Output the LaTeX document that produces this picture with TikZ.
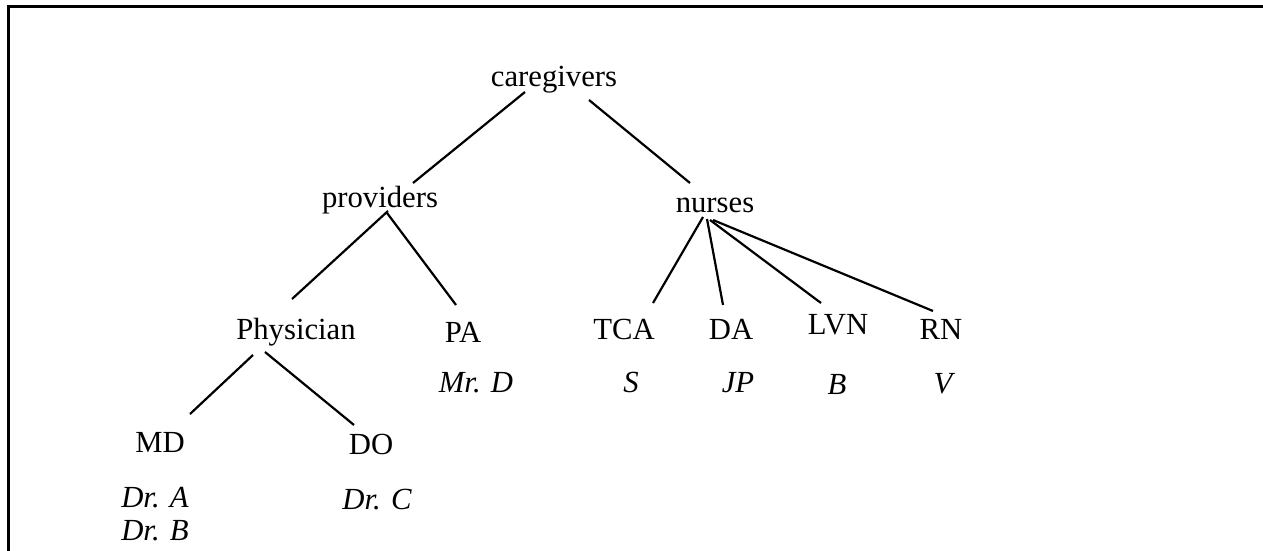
\documentclass[tikz,border=0pt]{standalone}
\usepackage{fontspec}
\setmainfont{Liberation Serif}
\usetikzlibrary{calc}
\tikzset{
  lbl/.style={anchor=base, inner sep=0pt, font=\fontsize{30.7}{36}\selectfont},
  person/.style={anchor=base, inner sep=0pt, font=\fontsize{30.7}{36}\selectfont\itshape},
  edge/.style={line width=2.2pt, line cap=butt},
  frame/.style={line width=3pt, line join=miter}
}
\begin{document}
\begin{tikzpicture}[x=1pt,y=-1pt]
\useasboundingbox (0,0) rectangle (1263,551);
\draw[frame] (1270,6.5) -- (8.5,6.5) -- (8.5,560);
% category nodes
\node[lbl] (caregivers) at (554,86) {caregivers};
\node[lbl] (providers) at (380,207) {providers};
\node[lbl] (nurses) at (715,212) {nurses};
\node[lbl] (physician) at (296,339) {Physician};
\node[lbl] (pa) at (463,342) {PA};
\node[lbl] (tca) at (624,339) {TCA};
\node[lbl] (da) at (731,339) {DA};
\node[lbl] (lvn) at (838,334) {LVN};
\node[lbl] (rn) at (941,339) {RN};
\node[lbl] (md) at (160,452) {MD};
\node[lbl] (do) at (371,454) {DO};
% people
\node[person] (mrd) at (476,392) {Mr. D};
\node[person] (s) at (631,392) {S};
\node[person] (jp) at (738,392) {JP};
\node[person] (b) at (837,394) {B};
\node[person] (v) at (943,393) {V};
\node[person] (dra) at (155,507) {Dr. A};
\node[person] (drb) at (155,540) {Dr. B};
\node[person] (drc) at (377,509) {Dr. C};
% connectors
\draw[edge] ($(caregivers.base)+(-29,6)$) -- ($(providers.base)+(33,-24)$);
\draw[edge] ($(caregivers.base)+(35,14)$) -- ($(nurses.base)+(-25,-29)$);
\draw[edge] ($(providers.base)+(8,4)$) -- ($(physician.base)+(-4,-40)$);
\draw[edge] ($(providers.base)+(7,6)$) -- ($(pa.base)+(-7,-37)$);
\draw[edge] ($(nurses.base)+(-12,5)$) -- ($(tca.base)+(29,-36)$);
\draw[edge] ($(nurses.base)+(-8,7)$) -- ($(da.base)+(-8,-34)$);
\draw[edge] ($(nurses.base)+(-5,8)$) -- ($(lvn.base)+(-17,-31)$);
\draw[edge] ($(nurses.base)+(-2,8)$) -- ($(rn.base)+(-8,-28)$);
\draw[edge] ($(physician.base)+(-43,16)$) -- ($(md.base)+(30,-38)$);
\draw[edge] ($(physician.base)+(-31,13)$) -- ($(do.base)+(-17,-29)$);
\end{tikzpicture}
\end{document}
